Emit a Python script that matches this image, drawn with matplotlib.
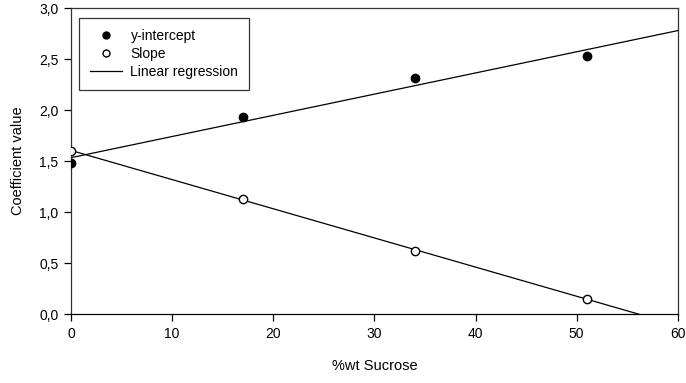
import numpy as np
import matplotlib.pyplot as plt
from matplotlib.ticker import FuncFormatter
from matplotlib.lines import Line2D

plt.rcParams['font.family'] = ['Liberation Sans', 'DejaVu Sans']

sucrose = [0, 17, 34, 51]
y_intercept = [1.48, 1.93, 2.31, 2.53]
slope = [1.60, 1.13, 0.62, 0.15]

fig = plt.figure(figsize=(6.86, 3.83), dpi=100)
ax = fig.add_axes([0.1035, 0.180, 0.8845, 0.799])

# least-squares lines through each series
xs = np.array([0, 60])
for vals in (y_intercept, slope):
    m, b = np.polyfit(sucrose, vals, 1)
    ax.plot(xs, m * xs + b, color='black', lw=0.9, zorder=2)

ax.plot(sucrose, y_intercept, 'o', color='black', ms=6, zorder=3)
ax.plot(sucrose, slope, 'o', mfc='white', mec='black', mew=1, ms=6, zorder=3)

ax.set_xlim(0, 60)
ax.set_ylim(0, 3.0)
ax.set_xticks(range(0, 61, 10))
ax.set_yticks(np.arange(0, 3.01, 0.5))
ax.yaxis.set_major_formatter(FuncFormatter(lambda v, p: f'{v:.1f}'.replace('.', ',')))
ax.tick_params(direction='out', length=5, width=0.9, labelsize=10, pad=4)
for s in ax.spines.values():
    s.set_linewidth(0.9)
    s.set_color('#333333')
ax.spines['bottom'].set_color('black')

ax.set_xlabel('%wt Sucrose', fontsize=10.5, labelpad=13)
ax.set_ylabel('Coefficient value', fontsize=10.5, labelpad=10)

handles = [
    Line2D([], [], marker='o', ls='none', color='black', ms=5),
    Line2D([], [], marker='o', ls='none', mfc='white', mec='black', ms=5),
    Line2D([], [], color='black', lw=0.9),
]
leg = ax.legend(handles, ['y-intercept', 'Slope', 'Linear regression'],
                loc='upper left', bbox_to_anchor=(0.0137, 0.966), borderaxespad=0,
                fontsize=10, frameon=True, fancybox=False, edgecolor='black',
                borderpad=0.75, labelspacing=0.3, handlelength=2.3,
                handletextpad=0.63)
leg.get_frame().set_linewidth(0.9)

fig.savefig('out.png', dpi=100)
